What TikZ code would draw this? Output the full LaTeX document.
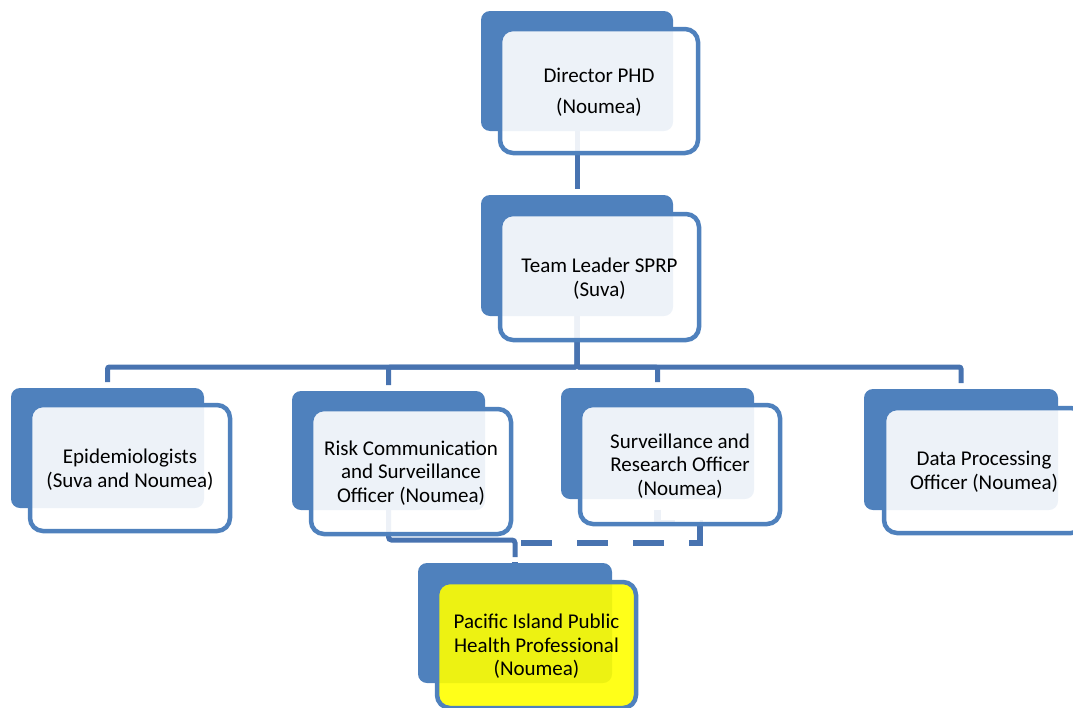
\documentclass[tikz,border=0pt]{standalone}
\usepackage{fontspec}
\setmainfont{Carlito}
\usetikzlibrary{calc}
\definecolor{boxblue}{RGB}{79,129,189}
\definecolor{connblue}{RGB}{72,115,176}
\definecolor{hiyellow}{RGB}{255,255,0}
\pgfdeclarelayer{bg}
\pgfsetlayers{bg,main}
\begin{document}
\begin{tikzpicture}[x=1pt,y=-1pt,
  backbox/.style={fill=boxblue, rounded corners=9pt, minimum width=193pt, minimum height=120pt, inner sep=0pt, outer sep=0pt},
  frontbox/.style={draw=boxblue, line width=4.5pt, fill=white, fill opacity=0.9, text opacity=1, rounded corners=13pt, minimum width=200pt, minimum height=125pt, align=center, font=\fontsize{21}{23.5}\selectfont, text=black, text depth=0pt, inner sep=0pt, outer sep=0pt},
  conn/.style={draw=connblue, line width=5pt, rounded corners=2pt, shorten >=6pt},
  dashconn/.style={draw=connblue, line width=6.5pt, dash pattern=on 31pt off 25pt, dash phase=45.5pt}
]
\useasboundingbox (0,0) rectangle (1073,707);
\clip (0,0) rectangle (1073,707);

% Director
\node[backbox, minimum width=192pt] (dirB) at (577,71) {};
\node[frontbox, minimum width=198pt, minimum height=124pt] (dirF) at (599,91) {Director PHD\\[7.5pt](Noumea)};
% Team leader
\node[backbox, minimum width=192pt, minimum height=121pt] (teamB) at (577,255.5) {};
\node[frontbox, minimum width=199pt, minimum height=126pt] (teamF) at (599.5,277) {Team Leader SPRP\\(Suva)};
% Epidemiologists
\node[backbox] (epiB) at (107.5,448) {};
\node[frontbox, minimum height=126pt] (epiF) at (130,468) {Epidemiologists\\(Suva and Noumea)};
% Risk communication
\node[backbox, minimum height=119pt] (riskB) at (388.5,450.5) {};
\node[frontbox] (riskF) at (411,471.5) {Risk Communication\\and Surveillance\\Officer (Noumea)};
% Surveillance
\node[backbox, minimum height=111pt] (survB) at (657.5,443.5) {};
\node[frontbox, minimum height=119pt] (survF) at (680,464.5) {Surveillance and\\Research Officer\\(Noumea)};
% Data processing
\node[backbox, minimum width=194pt, minimum height=121pt] (dataB) at (961,449.5) {};
\node[frontbox] (dataF) at (984,470.5) {Data Processing\\Officer (Noumea)};
% Pacific Island
\node[backbox, minimum width=194pt] (pacB) at (515,623) {};
\node[frontbox, fill=hiyellow, minimum width=199pt, minimum height=126pt] (pacF) at (536.5,645) {Pacific Island Public\\Health Professional\\(Noumea)};

\coordinate (busY) at (0,367);
\coordinate (pacY) at (0,540);
\begin{pgfonlayer}{bg}
\draw[conn] (dirB.south) -- (teamB.north);
\foreach \n in {epiB,riskB,survB,dataB}
  \draw[conn] (teamB.south) -- (teamB.south |- busY) -| (\n.north);
\draw[conn, rounded corners=3pt] (riskB.south) -- (riskB.south |- pacY) -| (pacB.north);
\draw[dashconn] (survB.south) -- ++(0,24) -- ++(42.5,0) -- ++(0,20) -| (pacB.north);
\end{pgfonlayer}
\end{tikzpicture}
\end{document}
